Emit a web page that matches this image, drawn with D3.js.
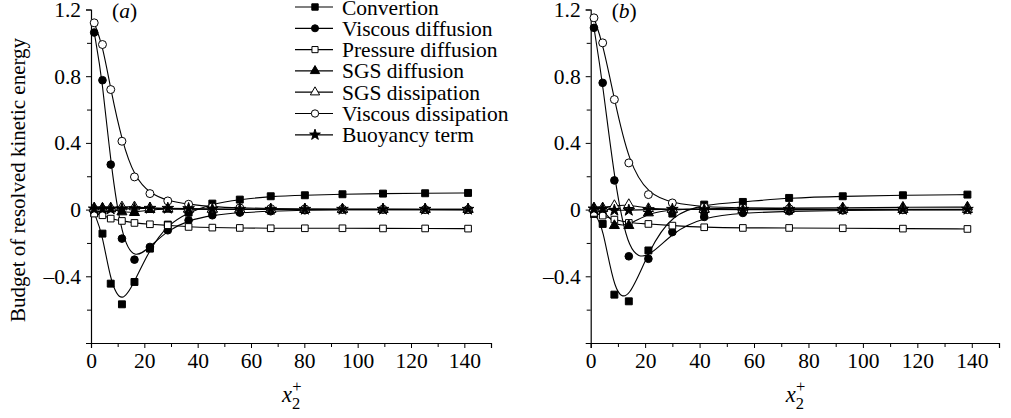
<!DOCTYPE html>
<html>
<head>
<meta charset="utf-8">
<script src="https://cdn.jsdelivr.net/npm/d3@7"></script>
<style>
  body { margin: 0; background: #fff; }
  .curve { fill: none; stroke: #000; stroke-width: 1.1; }
</style>
</head>
<body>
<script>
// ---- data ----
var seriesNames = ['Convertion', 'Viscous diffusion', 'Pressure diffusion', 'SGS diffusion',
                   'SGS dissipation', 'Viscous dissipation', 'Buoyancy term'];

// panel (a)
var xA = [1.2, 4.3, 7.4, 11.6, 16.3, 22.1, 28.8, 36.6, 45.5, 55.8, 67.4, 80.2, 94.3, 109.5, 125.3, 141.4];
var convA     = [-0.02, -0.144, -0.444, -0.568, -0.434, -0.234, -0.09, -0.018, 0.036, 0.06, 0.08, 0.086, 0.092, 0.096, 0.098, 0.1];
var viscDiffA = [1.062, 0.776, 0.27, -0.174, -0.30, -0.224, -0.124, -0.064, -0.034, -0.018, -0.01, -0.004, 0, 0, 0, 0];
var pressA    = [-0.024, -0.034, -0.054, -0.068, -0.08, -0.088, -0.094, -0.104, -0.108, -0.11, -0.112, -0.112, -0.112, -0.113, -0.113, -0.114];
var sgsDiffA  = [0.01, 0.008, 0.004, -0.014, -0.018, 0, 0.002, 0.002, 0.002, 0.002, 0.002, 0.002, 0.002, 0.002, 0.002, 0.002];
var sgsDissA  = [0.004, 0.006, 0.01, 0.016, 0.016, 0.01, 0.006, 0.004, 0.002, 0.001, 0, 0, 0, 0, 0, 0];
var viscDissA = [1.12, 0.99, 0.72, 0.41, 0.196, 0.096, 0.052, 0.032, 0.016, 0.01, 0.006, 0.004, 0.002, 0.002, 0, 0];
var buoyA     = [0.004, 0.004, 0.004, 0.004, 0.006, 0.008, 0.008, 0.006, 0.004, 0.002, 0.002, 0.002, 0.002, 0.002, 0.002, 0.002];

// panel (b)
var xB = [1.2, 4.4, 8.7, 14.0, 21.2, 30.0, 41.7, 55.9, 72.9, 92.6, 114.7, 138.4];
var convB     = [-0.026, -0.086, -0.51, -0.55, -0.245, -0.024, 0.03, 0.046, 0.07, 0.08, 0.086, 0.09];
var viscDiffB = [1.09, 0.76, 0.175, -0.28, -0.295, -0.135, -0.044, -0.02, -0.01, -0.005, -0.002, 0];
var pressB    = [-0.02, -0.036, -0.06, -0.08, -0.086, -0.096, -0.106, -0.11, -0.11, -0.112, -0.114, -0.116];
var sgsDiffB  = [0.01, 0.006, -0.096, -0.096, -0.02, 0.0, 0.005, 0.01, 0.01, 0.01, 0.014, 0.015];
var sgsDissB  = [0.004, 0.01, 0.024, 0.03, 0.006, 0.002, 0, 0, 0, 0, 0, 0];
var viscDissB = [1.15, 1.0, 0.66, 0.28, 0.09, 0.04, 0.015, 0.01, 0.005, 0.002, 0, 0];
var buoyB     = [0.004, 0.004, -0.004, -0.004, 0.0, 0.002, 0.002, 0.002, 0.002, 0.002, 0.002, 0.002];

var xMajor = [0, 20, 40, 60, 80, 100, 120, 140];
var xMinor = [10, 30, 50, 70, 90, 110, 130, 150];
var yMajor = [-0.4, 0, 0.4, 0.8, 1.2];
var yMinor = [-0.8, -0.6, -0.2, 0.2, 0.6, 1.0];

// marker style per series: symbol type and fill
var markers = [
    {type: d3.symbolSquare,   fill: '#000', size: 48},
    {type: d3.symbolCircle,   fill: '#000', size: 46},
    {type: d3.symbolSquare,   fill: '#fff', size: 44},
    {type: d3.symbolTriangle, fill: '#000', size: 44},
    {type: d3.symbolTriangle, fill: '#fff', size: 44},
    {type: d3.symbolCircle,   fill: '#fff', size: 50},
    {type: d3.symbolStar,     fill: '#000', size: 42}
];

var FONT = "'Liberation Serif'";
var FS = '21.5px';

var svg = d3.select('body').append('svg')
    .attr('width', 1011)
    .attr('height', 418);

var fmt = function(d) { return d < 0 ? '\u2013' + Math.abs(d) : String(d); };

/**
 * Draw one panel: axes, fitted curves and markers.
 */
function drawPanel(left, right, xs, series, label)
{
    var x = d3.scaleLinear().domain([0, 150]).range([left, right]);
    var y = d3.scaleLinear().domain([-0.8, 1.2]).range([343, 9.5]);
    var g = svg.append('g');

    // x axis
    var xa = g.append('g').attr('transform', 'translate(0,' + y(-0.8) + ')');
    xa.call(d3.axisBottom(x).tickValues(xMajor).tickSize(5).tickPadding(5).tickFormat(fmt));
    xa.append('g').call(d3.axisBottom(x).tickValues(xMinor).tickSize(4).tickFormat(''))
      .select('.domain').remove();

    // y axis
    var ya = g.append('g').attr('transform', 'translate(' + x(0) + ',0)');
    ya.call(d3.axisLeft(y).tickValues(yMajor).tickSize(5).tickPadding(5).tickFormat(fmt));
    ya.append('g').call(d3.axisLeft(y).tickValues(yMinor).tickSize(4).tickFormat(''))
      .select('.domain').remove();

    g.selectAll('text').style('font-size', FS).style('font-family', FONT);
    g.selectAll('.domain').attr('stroke-width', 1.2);

    // fitted curves
    var line = d3.line()
        .x(function(d) { return x(d[0]); })
        .y(function(d) { return y(d[1]); })
        .curve(d3.curveBasis);
    series.forEach(function(vals) {
        g.append('path').attr('class', 'curve')
            .attr('d', line(xs.map(function(v, i) { return [v, vals[i]]; })));
    });

    // markers on top
    series.forEach(function(vals, k) {
        var m = markers[k];
        g.append('g').selectAll('path')
            .data(xs.map(function(v, i) { return [v, vals[i]]; }))
            .join('path')
                .attr('d', d3.symbol().type(m.type).size(m.size))
                .attr('transform', function(d) { return 'translate(' + x(d[0]) + ',' + y(d[1]) + ')'; })
                .attr('fill', m.fill)
                .attr('stroke', '#000')
                .attr('stroke-width', 1);
    });

    // panel label
    var t = g.append('text').attr('x', x(0) + 21).attr('y', 18)
        .style('font-size', FS).style('font-family', FONT);
    t.append('tspan').text('(');
    t.append('tspan').style('font-style', 'italic').text(label);
    t.append('tspan').text(')');

    // x axis title
    var xt = g.append('text').attr('x', (x(0) + x(150)) / 2 - 9).attr('y', 402)
        .style('font-size', '22.5px').style('font-family', FONT);
    xt.append('tspan').style('font-style', 'italic').text('x');
    xt.append('tspan').attr('dy', 7).style('font-size', '16.5px').text('2');
    xt.append('tspan').attr('dx', -8).attr('dy', -17).style('font-size', '16.5px').text('+');
}

drawPanel(91, 491, xA, [convA, viscDiffA, pressA, sgsDiffA, sgsDissA, viscDissA, buoyA], 'a');
drawPanel(590.7, 999, xB, [convB, viscDiffB, pressB, sgsDiffB, sgsDissB, viscDissB, buoyB], 'b');

// y axis title
svg.append('text')
    .attr('transform', 'translate(18,180) rotate(-90)')
    .attr('text-anchor', 'middle')
    .attr('dy', '0.35em')
    .style('font-size', '21px')
    .style('font-family', FONT)
    .text('Budget of resolved kinetic energy');

// legend
var legend = svg.append('g').attr('transform', 'translate(295,7)');
seriesNames.forEach(function(name, k) {
    var row = legend.append('g').attr('transform', 'translate(0,' + (k * 21.3) + ')');
    row.append('line').attr('x1', 0).attr('x2', 38).attr('y1', 0).attr('y2', 0)
        .attr('stroke', '#000').attr('stroke-width', 1.2);
    row.append('path')
        .attr('d', d3.symbol().type(markers[k].type).size(markers[k].size * 0.85))
        .attr('transform', 'translate(20,0)')
        .attr('fill', markers[k].fill)
        .attr('stroke', '#000');
    row.append('text').attr('x', 47).attr('dy', '0.35em')
        .style('font-size', FS)
        .style('font-family', FONT)
        .text(name);
});
</script>
</body>
</html>
